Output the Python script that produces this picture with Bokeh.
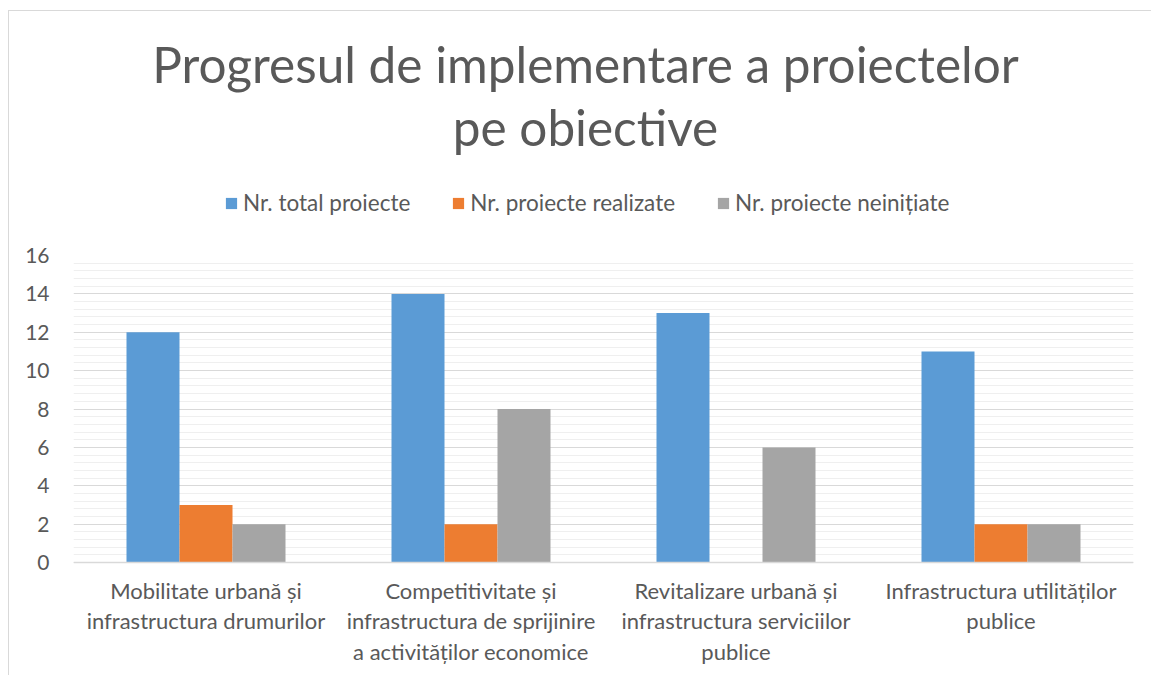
from bokeh.plotting import figure
from bokeh.models import (ColumnDataSource, FactorRange, Range1d, Legend, LegendItem,
                          FixedTicker, Span)
from bokeh.layouts import column
from bokeh.transform import dodge
from bokeh.core.properties import value
from bokeh.embed import file_html
from bokeh.resources import INLINE

title_lines = ["Progresul de implementare a proiectelor", "pe obiective"]
categories = [
    "Mobilitate urbană și\ninfrastructura drumurilor",
    "Competitivitate și\ninfrastructura de sprijinire\na activităților economice",
    "Revitalizare urbană și\ninfrastructura serviciilor\npublice",
    "Infrastructura utilităților\npublice",
]
series_names = ["Nr. total proiecte", "Nr. proiecte realizate", "Nr. proiecte neinițiate"]
total = [12, 14, 13, 11]
realizate = [3, 2, 0, 2]
neinitiate = [2, 8, 6, 2]
y_ticks = [0, 2, 4, 6, 8, 10, 12, 14, 16]
colors = ["#5B9BD5", "#ED7D31", "#A5A5A5"]

FONT = "Lato"
TXT = "#595959"

W = 1142
FW = 1060          # frame width (frames are aligned in the column)
HT = 224

# ---------------- header (title + legend) ----------------
top = figure(width=W, height=HT, x_range=Range1d(0, FW), y_range=Range1d(0, HT),
             output_backend="svg", toolbar_location=None, title=None,
             min_border_left=64, min_border_right=18, min_border_top=0, min_border_bottom=0)
top.axis.visible = False
top.grid.visible = False
top.outline_line_color = None
top.background_fill_color = "white"
top.border_fill_color = "white"

tsrc = ColumnDataSource(dict(x=[512, 512], y=[172, 109], t=title_lines))
top.text(x="x", y="y", text="t", source=tsrc, text_font=value(FONT), text_font_size="49.5px",
         text_color=TXT, text_align="center", text_baseline="middle")

swatches = []
for c in colors:
    swatches.append(top.vbar(x=[0], top=[0], bottom=[0], width=0, fill_color=c, line_color=None))

legend = Legend(items=[LegendItem(label=n, renderers=[r]) for n, r in zip(series_names, swatches)],
                orientation="horizontal", location=(151, 19),
                label_text_font=FONT, label_text_font_size="22.5px", label_text_color=TXT,
                glyph_width=14, glyph_height=14, spacing=41, label_standoff=5,
                border_line_color=None, background_fill_alpha=0, margin=0, padding=0)
top.add_layout(legend, "center")

# ---------------- chart ----------------
src = ColumnDataSource(dict(cat=categories, total=total, realizate=realizate, neinitiate=neinitiate))

PX_PER_UNIT = 307 / 16.0
y_bottom = -(675 - 562) / PX_PER_UNIT

p = figure(x_range=FactorRange(factors=categories, range_padding=0),
           y_range=Range1d(y_bottom, 16),
           width=W, height=675 - 11 - HT,
           output_backend="svg", toolbar_location=None, title=None,
           min_border_left=64, min_border_right=18, min_border_bottom=0, min_border_top=20)
p.outline_line_color = None
p.background_fill_color = "white"
p.border_fill_color = "white"

for col, off, c in zip(["total", "realizate", "neinitiate"], [-0.2, 0.0, 0.2], colors):
    p.vbar(x=dodge("cat", off, range=p.x_range), top=col, width=0.2, source=src,
           fill_color=c, line_color=None)

minor = [round(t + k * 0.4, 1) for t in y_ticks[:-1] for k in range(1, 5)]
p.yaxis.ticker = FixedTicker(ticks=y_ticks, minor_ticks=minor)
p.yaxis.axis_line_color = None
p.yaxis.major_tick_line_color = None
p.yaxis.minor_tick_line_color = None
p.yaxis.major_label_text_font = FONT
p.yaxis.major_label_text_font_size = "21px"
p.yaxis.major_label_text_color = TXT
p.yaxis.major_label_standoff = 18

p.xaxis.visible = False
p.xgrid.grid_line_color = None
p.ygrid.grid_line_color = "#D9D9D9"
p.ygrid.grid_line_width = 1
p.ygrid.minor_grid_line_color = "#EFEFEF"
p.ygrid.minor_grid_line_width = 1

# category axis line along y = 0
p.add_layout(Span(location=0, dimension="width", line_color="#D9D9D9", line_width=1.5))

# category labels
label_y = -14 / PX_PER_UNIT
lsrc = ColumnDataSource(dict(cat=categories, y=[label_y] * len(categories)))
p.text(x="cat", y="y", text="cat", source=lsrc, text_font=value(FONT), text_font_size="22px",
       text_color=TXT, text_align="center", text_baseline="top", text_line_height=1.14)

layout = column(top, p, spacing=0)
layout.margin = (10, 0, 0, 8)
layout.styles = {"border-left": "1px solid #D9D9D9", "border-top": "1px solid #D9D9D9"}

open("out.html", "w").write(file_html(layout, INLINE))
